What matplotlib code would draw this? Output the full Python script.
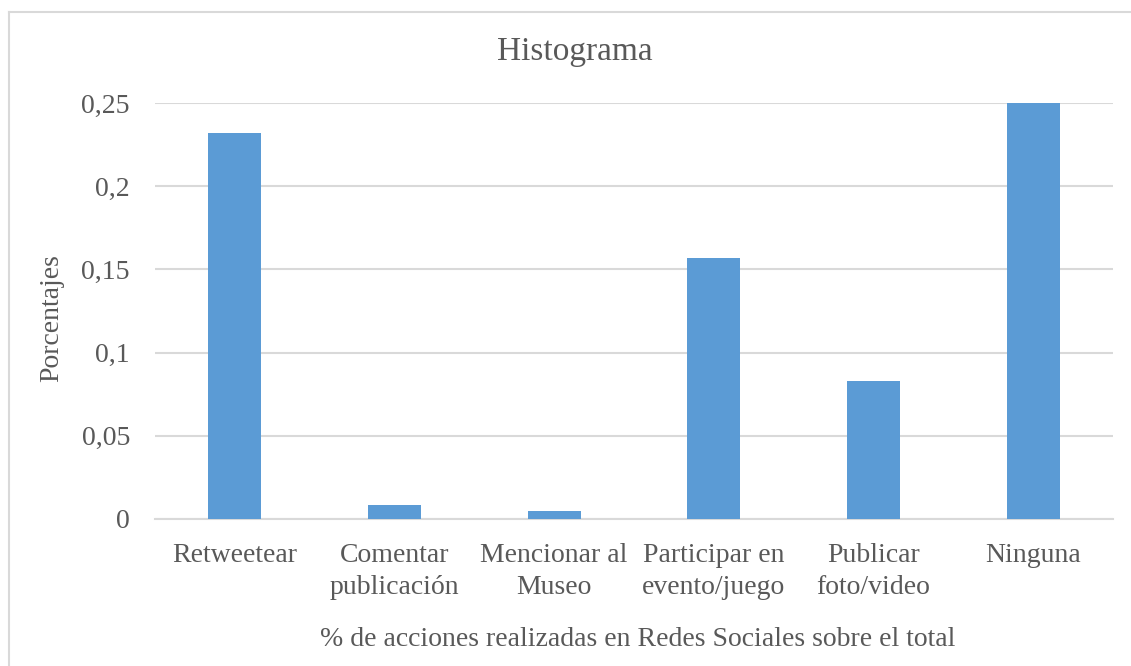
import matplotlib
matplotlib.use("Agg")
import matplotlib.pyplot as plt
from matplotlib.lines import Line2D

categories = ["Retweetear", "Comentar\npublicación", "Mencionar al\nMuseo",
              "Participar en\nevento/juego", "Publicar\nfoto/video", "Ninguna"]
values = [0.232, 0.0084, 0.005, 0.157, 0.083, 0.25]
yticks = [0, 0.05, 0.1, 0.15, 0.2, 0.25]
ytick_labels = ["0", "0,05", "0,1", "0,15", "0,2", "0,25"]

W, H = 1131, 666
plt.rcParams["font.family"] = ["Liberation Serif", "DejaVu Serif"]
text_color = "#595959"
grid_color = "#d9d9d9"
bar_color = "#5b9bd5"

fig = plt.figure(figsize=(W / 100, H / 100), dpi=100)

# chart-area border: only the top and left edges fall inside the image
bx, by = 8.5 / W, 1 - 11.5 / H
fig.add_artist(Line2D([bx, 1.0], [by, by], transform=fig.transFigure,
                      color=grid_color, linewidth=1.5))
fig.add_artist(Line2D([bx, bx], [0.0, by], transform=fig.transFigure,
                      color=grid_color, linewidth=1.5))

left, right, bottom, top = 155, 1113, 519, 103
ax = fig.add_axes([left / W, (H - bottom) / H, (right - left) / W, (bottom - top) / H])

x = range(len(categories))
ax.bar(x, values, width=0.33, color=bar_color, zorder=3)
ax.set_xlim(-0.5, len(categories) - 0.5)
ax.set_ylim(0, 0.25)
ax.set_yticks(yticks)
ax.set_yticklabels(ytick_labels)
ax.set_xticks(list(x))
ax.set_xticklabels(categories, linespacing=1.38)

for s in ["top", "right", "left"]:
    ax.spines[s].set_visible(False)
ax.spines["bottom"].set_color(grid_color)
ax.spines["bottom"].set_linewidth(1.5)
ax.yaxis.grid(True, color=grid_color, linewidth=1.5, zorder=0)
ax.set_axisbelow(True)
ax.tick_params(axis="both", length=0, labelsize=20, colors=text_color)
ax.tick_params(axis="y", pad=18)
ax.tick_params(axis="x", pad=17)

fig.text(575 / W, 1 - 52 / H, "Histograma", ha="center", va="center",
         fontsize=24, color=text_color)
fig.text(52 / W, 1 - 318 / H, "Porcentajes", ha="center", va="center",
         rotation=90, fontsize=20, color=text_color)
fig.text(638 / W, 1 - 640 / H, "% de acciones realizadas en Redes Sociales sobre el total",
         ha="center", va="center", fontsize=20, color=text_color)

fig.savefig("out.png", dpi=100)
